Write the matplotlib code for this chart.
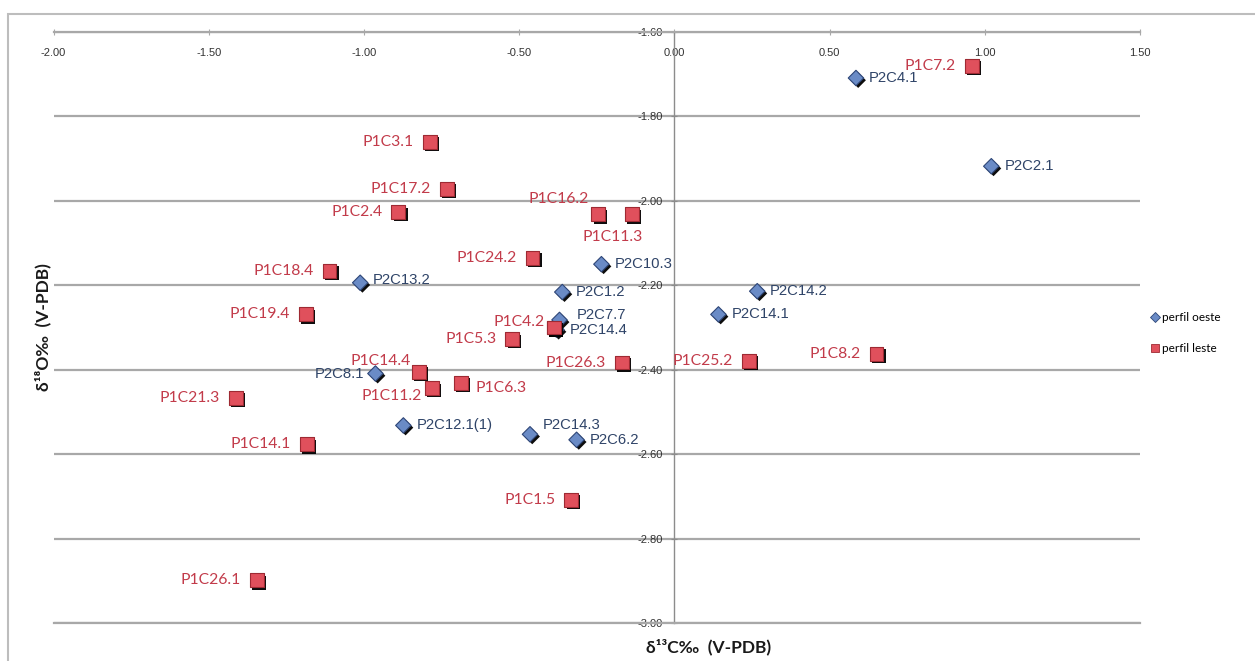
import matplotlib
matplotlib.use("Agg")
import matplotlib.pyplot as plt
import matplotlib.patheffects as pe
from matplotlib.lines import Line2D
from matplotlib.patches import Rectangle

# ---------------- data ----------------
oeste_labels = ["P2C4.1", "P2C2.1", "P2C10.3", "P2C13.2", "P2C1.2", "P2C14.2",
                "P2C14.1", "P2C7.7", "P2C14.4", "P2C8.1", "P2C12.1(1)", "P2C14.3", "P2C6.2"]
oeste_c13 = [0.585, 1.021, -0.235, -1.012, -0.361, 0.267,
             0.142, -0.370, -0.380, -0.963, -0.873, -0.465, -0.315]
oeste_o18 = [-1.709, -1.918, -2.150, -2.194, -2.216, -2.214,
             -2.269, -2.282, -2.305, -2.409, -2.532, -2.553, -2.566]

leste_labels = ["P1C7.2", "P1C3.1", "P1C17.2", "P1C2.4", "P1C16.2", "P1C11.3",
                "P1C24.2", "P1C18.4", "P1C19.4", "P1C4.2", "P1C5.3", "P1C26.3",
                "P1C25.2", "P1C8.2", "P1C14.4", "P1C11.2", "P1C6.3", "P1C21.3",
                "P1C14.1", "P1C1.5", "P1C26.1"]
leste_c13 = [0.958, -0.788, -0.733, -0.889, -0.245, -0.137,
             -0.457, -1.111, -1.186, -0.387, -0.522, -0.168,
             0.241, 0.651, -0.824, -0.781, -0.687, -1.413,
             -1.184, -0.332, -1.344]
leste_o18 = [-1.680, -1.860, -1.972, -2.027, -2.032, -2.032,
             -2.135, -2.166, -2.269, -2.300, -2.328, -2.383,
             -2.379, -2.363, -2.405, -2.444, -2.431, -2.466,
             -2.577, -2.708, -2.899]

series_names = ["perfil oeste", "perfil leste"]
x_ticks = [-2.00, -1.50, -1.00, -0.50, 0.00, 0.50, 1.00, 1.50]
y_ticks = [-1.60, -1.80, -2.00, -2.20, -2.40, -2.60, -2.80, -3.00]
x_title = "δ¹³C‰  (V-PDB)"
y_title = "δ¹⁸O‰  (V-PDB)"

# ---------------- label placement (styling, pixels) ----------------
oeste_off = {"P2C8.1": (-11, 0, "right"), "P2C14.3": (13, 9, "left"),
             "P2C7.7": (17, 5, "left"), "P2C14.4": (13, 0, "left"),
             "P2C13.2": (13, 3, "left")}
leste_off = {"P1C16.2": (-10, 15, "right"), "P1C11.3": (-19, -23, "center"),
             "P1C4.2": (-10, 6, "right"), "P1C14.4": (-8, 11, "right"),
             "P1C11.2": (-10, -8, "right"), "P1C6.3": (14, -5, "left")}

RED_TXT = "#C23B4A"
BLUE_TXT = "#2F4468"
SQ_FACE = "#E0505C"
SQ_EDGE = "#9E2A33"
DI_FACE = "#6A8BC6"
DI_EDGE = "#2E4677"
GRID = "#A8A8A8"

fig = plt.figure(figsize=(12.55, 6.61), dpi=100)
fig.patch.set_facecolor("white")
ax = fig.add_axes([53.5 / 1255, 1 - 623 / 661, (1140 - 53.5) / 1255, (623 - 32) / 661])

# outer chart frame
fig.patches.append(Rectangle((8 / 1255, -0.05), 1.2, 1 - 14 / 661 + 0.05,
                             transform=fig.transFigure, fill=False,
                             edgecolor="#BDBDBD", linewidth=1.5))

ax.set_xlim(-2.0, 1.5)
ax.set_ylim(-3.0, -1.6)
ax.set_xticks(x_ticks)
ax.set_yticks(y_ticks)
ax.set_xticklabels([f"{v:.2f}" for v in x_ticks])
ax.set_yticklabels([f"{v:.2f}" for v in y_ticks])

ax.grid(axis="y", color=GRID, linewidth=1.6)
ax.grid(axis="x", visible=False)
ax.set_axisbelow(True)

ax.spines["right"].set_visible(False)
ax.spines["top"].set_color(GRID)
ax.spines["top"].set_linewidth(1.6)
ax.spines["bottom"].set_color(GRID)
ax.spines["bottom"].set_linewidth(1.6)
ax.spines["left"].set_position(("data", 0))
ax.spines["left"].set_color("#8C8C8C")
ax.spines["left"].set_linewidth(1.0)

ax.tick_params(axis="x", top=True, bottom=False, labeltop=True, labelbottom=False,
               direction="inout", length=5, color=GRID, pad=-21,
               labelsize=8, labelcolor="#333333")
ax.tick_params(axis="y", direction="inout", length=5, color="#8C8C8C",
               labelsize=8, labelcolor="#333333", pad=6)
for t in ax.get_xticklabels() + ax.get_yticklabels():
    t.set_fontfamily("Liberation Sans")

shadow = [pe.SimplePatchShadow(offset=(1.6, -1.6), shadow_rgbFace="black", alpha=0.95),
          pe.Normal()]

ax.scatter(leste_c13, leste_o18, marker="s", s=100, facecolor=SQ_FACE,
           edgecolor=SQ_EDGE, linewidth=0.8, zorder=3, path_effects=shadow, clip_on=False)
ax.scatter(oeste_c13, oeste_o18, marker="D", s=62, facecolor=DI_FACE,
           edgecolor=DI_EDGE, linewidth=0.8, zorder=3, path_effects=shadow, clip_on=False)
# the P1C4.2 square sits on top of the P2C14.4 diamond
i42 = leste_labels.index("P1C4.2")
ax.scatter([leste_c13[i42]], [leste_o18[i42]], marker="s", s=100, facecolor=SQ_FACE,
           edgecolor=SQ_EDGE, linewidth=0.8, zorder=4, path_effects=shadow)

for lab, x, y in zip(leste_labels, leste_c13, leste_o18):
    dx, dy, ha = leste_off.get(lab, (-16, 0, "right"))
    ax.annotate(lab, (x, y), xytext=(dx, dy), textcoords="offset pixels",
                ha=ha, va="center", color=RED_TXT, fontsize=11.3,
                family=["Lato", "DejaVu Sans"], zorder=5)

for lab, x, y in zip(oeste_labels, oeste_c13, oeste_o18):
    dx, dy, ha = oeste_off.get(lab, (13, 0, "left"))
    ax.annotate(lab, (x, y), xytext=(dx, dy), textcoords="offset pixels",
                ha=ha, va="center", color=BLUE_TXT, fontsize=10.7,
                family=["Liberation Sans", "DejaVu Sans"], zorder=5)

# axis titles
fig.text(709 / 1255, 1 - 647 / 661, x_title, ha="center", va="center",
         fontsize=12.5, fontweight="bold", family=["Lato", "DejaVu Sans"], color="#1A1A1A")
fig.text(43 / 1255, 1 - 327 / 661, y_title, ha="center", va="center", rotation=90,
         fontsize=12.5, fontweight="bold", family=["Lato", "DejaVu Sans"], color="#1A1A1A")

# legend
handles = [Line2D([], [], linestyle="none", marker="D", markersize=5,
                  markerfacecolor=DI_FACE, markeredgecolor=DI_EDGE, markeredgewidth=0.6),
           Line2D([], [], linestyle="none", marker="s", markersize=6,
                  markerfacecolor=SQ_FACE, markeredgecolor=SQ_EDGE, markeredgewidth=0.6)]
leg = fig.legend(handles, series_names, loc="center left",
                 bbox_to_anchor=(1141 / 1255, 1 - 333 / 661), frameon=False,
                 handlelength=0.6, handletextpad=0.3, labelspacing=1.7,
                 prop={"family": ["Lato", "DejaVu Sans"], "size": 8.5})

fig.savefig("out.png", dpi=100, facecolor="white")
